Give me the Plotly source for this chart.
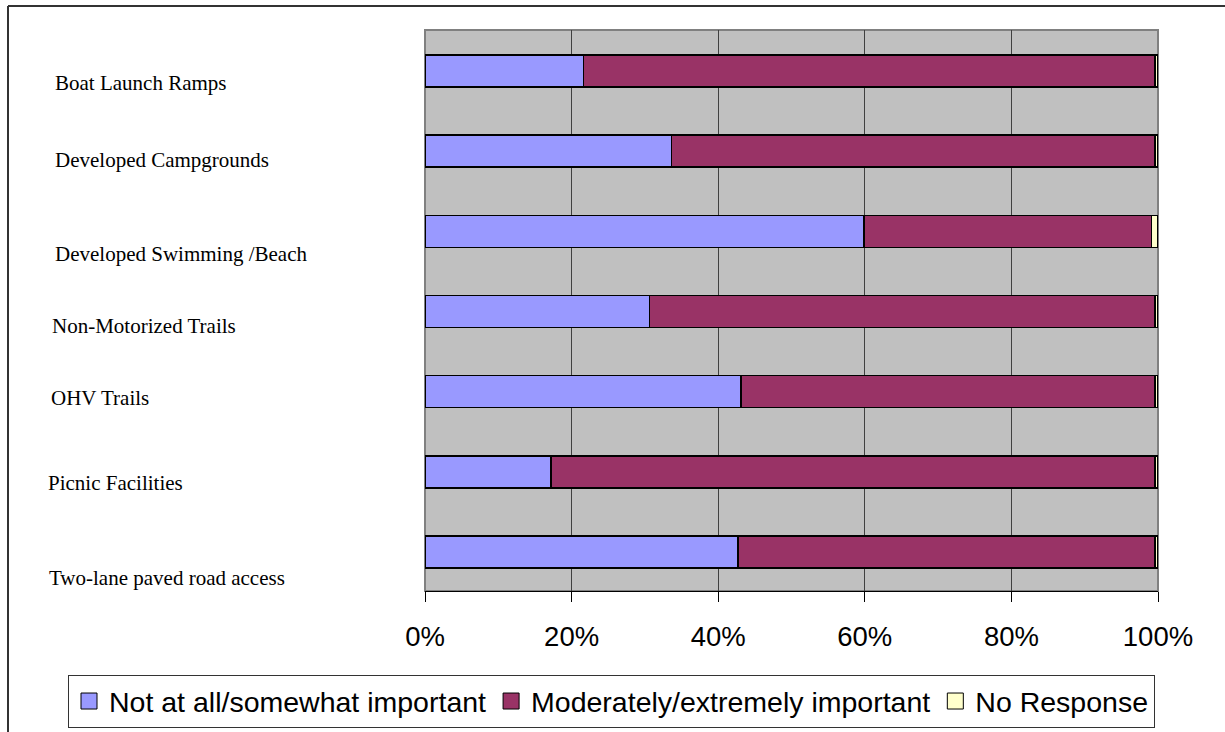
import plotly.graph_objects as go

categories = ["Boat Launch Ramps", "Developed Campgrounds", "Developed Swimming /Beach",
              "Non-Motorized Trails", "OHV Trails", "Picnic Facilities",
              "Two-lane paved road access"]
not_important = [21.6, 33.6, 59.9, 30.6, 43.1, 17.2, 42.7]
important = [78.0, 66.0, 39.2, 69.0, 56.5, 82.4, 56.9]
no_response = [0.4, 0.4, 0.9, 0.4, 0.4, 0.4, 0.4]
x_ticks = [0, 20, 40, 60, 80, 100]

series_names = ["Not at all/somewhat important", "Moderately/extremely important", "No Response"]
series_colors = ["#9999FF", "#993366", "#FFFFCC"]

# layout geometry (pixels)
W, H = 1225, 732
PL, PR, PT, PB = 425, 1158, 30, 591

def px_x(p):
    return (p - PL) / (PR - PL)

def px_y(p):
    return (PB - p) / (PB - PT)

# label placement: (left x pixel, vertical shift in px relative to bar centre)
label_x = [53, 53, 53, 50, 49, 46, 47]
label_shift = [12, 9, 23, 14.5, 6.5, 11.5, 26.5]

fig = go.Figure()
for name, vals, col in zip(series_names, [not_important, important, no_response], series_colors):
    fig.add_trace(go.Bar(
        y=categories, x=vals, name=name, orientation="h", showlegend=False,
        marker=dict(color=col, line=dict(color="black", width=1.5)),
    ))
    # legend entry with a larger square swatch
    fig.add_trace(go.Scatter(
        x=[None], y=[None], mode="markers", name=name, showlegend=True,
        marker=dict(symbol="square", size=16, color=col, line=dict(color="black", width=1)),
    ))

annotations = []
for cat, lx, sh in zip(categories, label_x, label_shift):
    annotations.append(dict(
        text=cat, xref="paper", yref="y", x=px_x(lx), y=cat, xanchor="left",
        yanchor="middle", yshift=-sh, showarrow=False,
        font=dict(family="Times New Roman, Liberation Serif, serif", size=21, color="black"),
    ))

shapes = [
    # plot-area border
    dict(type="rect", xref="paper", yref="paper", x0=0, x1=1, y0=0, y1=1,
         line=dict(color="#808080", width=2), layer="below"),
    # outer chart frame (top and left edges)
    dict(type="line", xref="paper", yref="paper", x0=px_x(8), x1=px_x(1230),
         y0=px_y(6), y1=px_y(6), line=dict(color="#333333", width=2)),
    dict(type="line", xref="paper", yref="paper", x0=px_x(8), x1=px_x(8),
         y0=px_y(6), y1=px_y(740), line=dict(color="#333333", width=2)),
]

fig.update_layout(
    width=W, height=H,
    margin=dict(l=PL, r=W - PR, t=PT, b=H - PB, pad=0, autoexpand=False),
    barmode="stack", bargap=0.6,
    paper_bgcolor="white", plot_bgcolor="#C0C0C0",
    font=dict(family="Arial, Liberation Sans, sans-serif", color="black"),
    showlegend=True,
    legend=dict(
        orientation="h", x=px_x(68), y=px_y(675), xanchor="left", yanchor="top",
        bordercolor="#333333", borderwidth=1, bgcolor="white",
        font=dict(family="Arial, Liberation Sans, sans-serif", size=28.5, color="black"),
        traceorder="normal", itemwidth=30,
    ),
    annotations=annotations,
    shapes=shapes,
    xaxis=dict(
        range=[0, 100], tickvals=x_ticks, ticktext=[f"{v}%" for v in x_ticks],
        showgrid=True, gridcolor="#404040", gridwidth=1,
        ticks="outside", ticklen=10, tickcolor="black", tickwidth=1,
        showline=True, linecolor="black", linewidth=1,
        tickfont=dict(family="Arial, Liberation Sans, sans-serif", size=27.5, color="black"),
        ticklabelstandoff=11, zeroline=False, fixedrange=True,
    ),
    yaxis=dict(
        range=[6.4875, -0.5125], showticklabels=False, showgrid=False, ticks="",
        showline=False, zeroline=False, fixedrange=True,
    ),
)

fig.write_html("out.html")
